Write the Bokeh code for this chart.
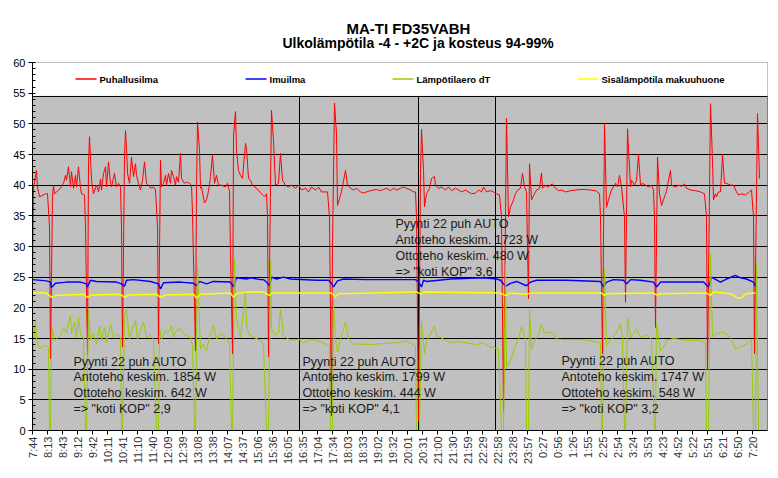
import math
from bokeh.plotting import figure
from bokeh.models import Range1d, FixedTicker, SingleIntervalTicker, Title
from bokeh.core.properties import value
from bokeh.embed import file_html
from bokeh.resources import INLINE

# ---------------- data ----------------
# x = sample index (one sample ~ 118 s, one tick label every 15 samples)
tick_labels = ["7:44", "8:13", "8:43", "9:12", "9:42", "10:11", "10:41", "11:10", "11:40", "12:09",
               "12:39", "13:08", "13:38", "14:07", "14:37", "15:06", "15:36", "16:05", "16:35", "17:04",
               "17:34", "18:03", "18:33", "19:02", "19:32", "20:01", "20:31", "21:00", "21:30", "21:59",
               "22:29", "22:58", "23:28", "23:57", "0:27", "0:56", "1:26", "1:55", "2:25", "2:54",
               "3:24", "3:53", "4:23", "4:52", "5:22", "5:51", "6:21", "6:50", "7:20"]
samples_per_label = 15
n_samples = 735

series_names = ["Puhallusilma", "Imuilma", "Lämpötilaero dT", "Sisälämpötila makuuhuone"]

puhallusilma = [(0,26.0),(1,39.5),(4,42.4),(5,39.7),(7,38.1),(13,38.6),(15,38.6),(17,33.2),(18,11.7),(20,38.1),(21,40.0),(22,38.6),(24,38.9),(28,39.5),(31,40.3),(33,41.6),(34,40.8),(36,43.0),(38,39.7),(39,42.2),(41,39.5),(43,41.6),(44,39.7),(46,43.0),(48,39.5),(49,38.6),(52,38.4),(53,33.2),(55,12.3),(56,43.5),(57,47.9),(58,44.6),(59,40.8),(61,38.6),(64,40.0),(66,38.9),(68,41.0),(69,39.2),(71,41.9),(73,43.0),(74,39.7),(76,43.8),(78,40.3),(79,39.7),(82,41.9),(84,39.7),(86,40.3),(88,39.7),(89,33.2),(90,13.6),(92,44.6),(93,48.9),(94,46.0),(95,41.9),(97,40.3),(99,44.6),(101,41.4),(103,43.5),(104,41.6),(106,40.3),(108,39.2),(110,40.8),(112,43.8),(114,40.3),(116,40.0),(118,39.5),(121,39.7),(123,39.2),(125,33.2),(126,14.1),(128,44.1),(129,39.7),(131,40.3),(133,41.6),(134,40.0),(136,41.9),(138,40.3),(139,42.4),(141,41.4),(143,40.0),(144,41.4),(146,40.5),(148,45.2),(149,41.1),(152,40.3),(154,40.5),(157,40.3),(159,40.0),(160,35.4),(163,13.0),(164,39.5),(165,50.3),(167,45.7),(168,39.5),(169,39.7),(172,37.1),(174,37.6),(176,39.0),(178,41.4),(180,44.9),(182,40.3),(184,41.6),(186,40.0),(189,40.0),(193,39.7),(195,40.3),(197,39.0),(198,29.0),(200,12.5),(201,47.9),(203,52.0),(204,45.7),(206,42.4),(208,41.6),(210,41.1),(213,46.8),(214,46.0),(216,41.1),(218,40.8),(220,40.0),(224,39.5),(229,38.6),(232,38.1),(234,38.6),(235,34.8),(236,12.0),(238,39.7),(239,52.2),(241,47.3),(243,40.0),(246,40.3),(248,45.2),(250,40.8),(253,40.0),(256,39.7),(259,40.0),(263,39.5),(266,40.0),(269,39.2),(273,39.5),(276,38.9),(279,39.7),(283,39.2),(286,39.7),(289,38.9),(293,38.9),(295,38.9),(297,34.8),(299,2.4),(300,30.0),(302,53.4),(304,48.4),(305,36.7),(307,37.8),(309,39.0),(313,42.4),(315,40.0),(318,39.5),(321,39.2),(324,39.5),(328,38.9),(331,38.7),(334,38.9),(338,39.1),(341,39.2),(344,39.3),(348,39.1),(351,39.3),(354,39.5),(358,39.1),(361,39.5),(364,39.2),(368,39.5),(371,39.7),(374,39.5),(378,39.2),(381,38.9),(383,38.9),(384,34.8),(386,1.5),(388,41.9),(389,49.1),(391,42.4),(392,36.5),(394,38.6),(397,39.5),(399,41.1),(402,41.4),(403,40.0),(406,39.5),(409,39.7),(413,39.2),(416,39.7),(419,39.1),(423,39.5),(426,39.2),(429,38.9),(433,39.2),(436,38.9),(439,38.6),(443,38.7),(446,39.2),(449,38.9),(451,39.7),(454,38.9),(458,39.1),(461,38.9),(464,38.6),(467,38.4),(469,34.8),(471,3.0),(474,50.9),(476,34.8),(478,36.4),(481,37.6),(483,38.6),(485,39.2),(488,39.5),(490,41.9),(492,39.7),(494,38.9),(495,30.0),(496,21.5),(497,43.5),(499,37.6),(502,38.6),(504,39.2),(507,39.5),(509,42.0),(510,39.5),(513,40.0),(515,39.7),(518,40.0),(520,40.2),(523,39.5),(526,39.1),(529,39.2),(533,38.9),(538,39.1),(543,39.2),(548,39.3),(553,39.3),(558,39.2),(563,39.1),(567,38.6),(568,34.8),(570,12.5),(572,50.0),(574,36.4),(576,37.6),(579,39.2),(583,40.3),(585,39.7),(587,41.6),(589,39.7),(592,34.8),(593,20.9),(595,49.2),(598,39.7),(599,40.8),(602,40.0),(604,40.8),(606,45.0),(608,40.0),(610,40.3),(613,40.0),(616,39.7),(619,40.0),(621,39.2),(622,34.8),(623,16.8),(625,44.6),(627,38.6),(629,36.7),(631,37.6),(634,39.0),(636,40.8),(638,42.4),(639,40.0),(643,39.7),(646,40.0),(649,39.8),(652,40.2),(654,39.5),(658,39.2),(663,39.1),(668,38.9),(672,38.6),(674,34.8),(675,10.0),(678,53.3),(680,44.0),(681,37.6),(683,38.6),(684,38.1),(686,38.9),(688,38.9),(690,45.0),(692,40.3),(694,40.3),(698,40.0),(701,40.0),(704,38.9),(706,38.4),(709,38.6),(713,38.4),(716,38.8),(719,39.2),(721,34.8),(722,12.5),(725,51.7),(727,41.1)]

imuilma = [(0,24.6),(14,24.4),(18,24.2),(19,23.3),(23,24.0),(34,24.2),(48,24.2),(54,23.9),(55,23.4),(58,24.5),(64,24.3),(84,24.2),(89,23.9),(92,23.5),(94,24.5),(101,24.6),(118,24.3),(126,23.9),(128,23.1),(131,24.1),(148,24.2),(161,24.0),(164,23.6),(167,24.3),(174,23.9),(181,24.3),(198,24.2),(201,23.4),(204,24.9),(214,24.7),(218,24.9),(228,24.6),(231,24.6),(234,24.2),(237,23.6),(239,25.0),(244,24.7),(251,25.0),(258,24.7),(284,24.5),(296,24.5),(299,24.0),(301,23.4),(305,24.4),(311,24.7),(334,24.6),(358,24.6),(383,24.6),(386,24.2),(389,23.4),(391,24.5),(394,24.3),(418,24.7),(451,24.9),(464,24.7),(468,24.5),(473,23.5),(478,24.0),(484,24.3),(494,23.6),(498,24.2),(504,24.5),(534,24.5),(568,24.3),(571,23.4),(574,24.2),(581,24.6),(591,24.5),(594,23.9),(598,24.6),(608,24.5),(621,24.2),(624,23.4),(628,24.2),(641,24.2),(671,24.2),(676,23.4),(679,25.0),(688,24.2),(694,24.7),(703,25.3),(708,24.9),(714,24.7),(721,24.2),(723,23.5)]

lampotilaero = [(0,0.0),(1,14.7),(3,17.9),(4,14.9),(7,13.3),(11,13.8),(14,13.8),(16,13.5),(17,0.0),(18,0.0),(19,14.0),(20,16.6),(22,14.7),(24,14.9),(28,15.5),(31,16.8),(34,16.0),(38,18.8),(39,15.8),(42,17.7),(44,15.2),(46,18.5),(48,15.8),(51,15.1),(53,0.0),(54,0.0),(56,19.6),(58,14.7),(61,15.8),(64,14.1),(67,17.1),(69,14.7),(72,16.8),(74,14.3),(78,17.3),(81,15.2),(84,15.8),(88,15.2),(89,0.0),(90,0.0),(92,18.5),(94,19.8),(97,14.9),(99,16.3),(103,17.9),(105,14.9),(108,16.3),(111,17.7),(114,15.2),(118,15.5),(121,14.9),(124,0.0),(126,0.0),(127,16.8),(129,14.9),(133,16.3),(136,16.0),(139,17.1),(141,15.2),(144,16.3),(148,16.6),(151,15.8),(154,15.5),(158,15.2),(160,13.8),(162,0.0),(163,0.0),(165,26.9),(168,13.3),(171,14.1),(174,13.0),(178,15.8),(181,17.1),(184,14.9),(188,15.8),(191,15.5),(194,14.9),(197,14.1),(199,0.0),(200,0.0),(202,28.0),(204,18.2),(208,15.2),(213,22.3),(214,17.4),(216,15.8),(221,15.2),(228,14.7),(231,13.9),(234,0.0),(236,0.0),(238,27.7),(239,16.6),(243,15.5),(246,16.0),(248,19.8),(251,15.5),(256,14.9),(261,14.7),(266,14.9),(271,14.3),(278,14.8),(284,14.7),(291,14.3),(297,13.8),(298,0.0),(300,0.0),(301,21.2),(303,15.0),(305,12.8),(308,15.0),(313,17.7),(316,14.9),(321,14.1),(328,14.1),(338,14.0),(351,14.2),(364,14.3),(374,14.6),(383,13.8),(384,0.0),(387,0.0),(389,17.9),(392,12.6),(394,14.5),(399,16.1),(402,17.0),(404,15.5),(411,14.9),(418,14.3),(424,14.5),(434,14.3),(444,14.0),(451,14.3),(458,13.6),(466,13.3),(469,0.0),(471,0.0),(473,26.9),(474,10.3),(478,11.4),(483,13.9),(486,14.9),(489,16.9),(493,14.9),(494,0.0),(496,0.0),(497,19.8),(499,13.2),(503,14.9),(506,15.5),(509,17.3),(512,15.8),(516,16.1),(521,15.8),(524,14.9),(534,14.8),(551,14.8),(568,14.3),(569,0.0),(570,0.0),(572,26.4),(574,13.9),(579,14.9),(584,16.0),(588,17.4),(590,15.0),(592,0.0),(593,0.0),(595,18.5),(598,15.2),(601,15.8),(604,16.6),(608,15.2),(614,15.5),(619,14.9),(622,0.0),(623,0.0),(624,17.5),(628,13.0),(631,13.6),(634,14.7),(641,15.0),(654,14.7),(668,14.7),(673,14.2),(674,0.0),(676,0.0),(678,28.8),(680,15.3),(684,15.8),(691,16.0),(698,15.2),(703,13.3),(708,13.6),(714,14.1),(719,14.7),(721,0.0),(723,0.0),(724,27.2),(726,0.0)]

sisalampotila = [(0,22.4),(14,22.4),(19,21.7),(23,22.0),(51,22.2),(55,21.7),(59,22.1),(88,22.2),(92,21.7),(96,22.1),(124,22.2),(128,21.7),(133,22.1),(161,22.2),(164,21.6),(168,22.2),(198,22.4),(201,21.7),(204,22.3),(214,22.6),(231,22.6),(237,22.0),(239,22.4),(299,22.4),(303,21.8),(306,22.3),(384,22.6),(389,22.2),(391,22.6),(468,22.4),(473,22.0),(478,22.4),(494,22.2),(498,22.4),(569,22.4),(572,22.0),(574,22.3),(621,22.4),(624,22.1),(628,22.3),(674,22.4),(678,22.0),(681,22.6),(698,22.3),(704,21.7),(709,21.6),(713,22.3),(723,22.4)]

# period separators (sample index)
period_breaks = [267, 386, 463]

note_titles = ["Pyynti 22 puh AUTO"] * 4
note_antoteho = [1854, 1799, 1723, 1747]
note_ottoteho = [642, 444, 480, 548]
note_kop = ["2,9", "4,1", "3,6", "3,2"]

# ---------------- layout / style (not data) ----------------
note_x = [41, 270, 363, 529]
note_y_top = [11.25, 11.25, 33.6, 11.3]
note_line_step = 2.6

legend_y = 57.3
legend_line_x = [43, 213, 360, 545]
legend_line_len = 21
legend_colors = ["#FF0000", "#0000FF", "#99CC00", "#FFFF00"]
legend_box_bottom = 54.46

FONT = "Liberation Sans"

p = figure(width=778, height=478, x_range=Range1d(0, n_samples), y_range=Range1d(0, 60),
           output_backend="svg", toolbar_location=None, title=None,
           min_border_left=32, min_border_right=11, min_border_top=62, min_border_bottom=48,
           background_fill_color="#C0C0C0", border_fill_color="white",
           outline_line_color="#808080", outline_line_width=1)

# titles: a blank spacer closest to the plot, then the two title lines
p.add_layout(Title(text=" ", text_font=FONT, text_font_size="8.5px", standoff=0), "above")
p.add_layout(Title(text="Ulkolämpötila -4 - +2C ja kosteus 94-99%", align="left", offset=250,
                   text_font=FONT, text_font_size="14px", text_font_style="bold",
                   text_color="black", standoff=0), "above")
p.add_layout(Title(text="MA-TI FD35VABH", align="left", offset=314,
                   text_font=FONT, text_font_size="15px", text_font_style="bold",
                   text_color="black", standoff=-8), "above")

# white legend area at top of plot
p.quad(left=[-20], right=[n_samples + 20], bottom=[legend_box_bottom], top=[62],
       fill_color="white", line_color="black", line_width=1)

# period separators
p.segment(x0=period_breaks, y0=[0] * 3, x1=period_breaks, y1=[legend_box_bottom] * 3,
          line_color="black", line_width=1)

series = [puhallusilma, imuilma, lampotilaero, sisalampotila]
widths = [1, 1.4, 1, 1.5]
for data, col, w in zip(series, legend_colors, widths):
    xs = [d[0] for d in data]
    ys = [d[1] for d in data]
    p.line(xs, ys, line_color=col, line_width=w)

# legend entries
p.segment(x0=legend_line_x, y0=[legend_y] * 4,
          x1=[x + legend_line_len for x in legend_line_x], y1=[legend_y] * 4,
          line_color=legend_colors, line_width=1.5)
p.text(x=[x + legend_line_len + 3 for x in legend_line_x], y=[legend_y] * 4, text=series_names,
       text_font=value(FONT), text_font_size="9.5px", text_font_style="bold",
       text_color="black", text_baseline="middle", text_align="left")

# annotations
for i in range(4):
    lines = [note_titles[i],
             f"Antoteho keskim. {note_antoteho[i]} W",
             f"Ottoteho keskim. {note_ottoteho[i]} W",
             f'=> "koti KOP" {note_kop[i]}']
    ys = [note_y_top[i] - k * note_line_step for k in range(4)]
    p.text(x=[note_x[i]] * 4, y=ys, text=lines, text_font=value(FONT),
           text_font_size="12.5px", text_color="#1a1a1a",
           text_baseline="middle", text_align="left")

# axes
ticks = [i * samples_per_label for i in range(len(tick_labels))]
p.xaxis.ticker = FixedTicker(ticks=ticks)
p.xaxis.major_label_overrides = {t: lab for t, lab in zip(ticks, tick_labels)}
p.xaxis.major_label_orientation = math.pi / 2
p.xaxis.major_tick_in = 0
p.xaxis.major_tick_out = 4
p.xaxis.minor_tick_line_color = None
p.xaxis.axis_line_color = "black"
p.xaxis.major_tick_line_color = "black"
p.xaxis.major_label_text_font = FONT
p.xaxis.major_label_text_font_size = "11px"
p.xaxis.major_label_text_color = "#333333"
p.xaxis.major_label_standoff = 2

p.yaxis.ticker = SingleIntervalTicker(interval=5, num_minor_ticks=5)
p.yaxis.major_tick_in = 0
p.yaxis.major_tick_out = 4
p.yaxis.minor_tick_in = 3
p.yaxis.minor_tick_out = 0
p.yaxis.axis_line_color = "black"
p.yaxis.major_tick_line_color = "black"
p.yaxis.minor_tick_line_color = "black"
p.yaxis.major_label_text_font = FONT
p.yaxis.major_label_text_font_size = "11px"
p.yaxis.major_label_text_color = "black"
p.yaxis.major_label_standoff = 3

p.xgrid.visible = False
p.ygrid.ticker = FixedTicker(ticks=list(range(5, 55, 5)))
p.ygrid.grid_line_color = "black"
p.ygrid.grid_line_width = 1

open("out.html", "w").write(file_html(p, INLINE))
